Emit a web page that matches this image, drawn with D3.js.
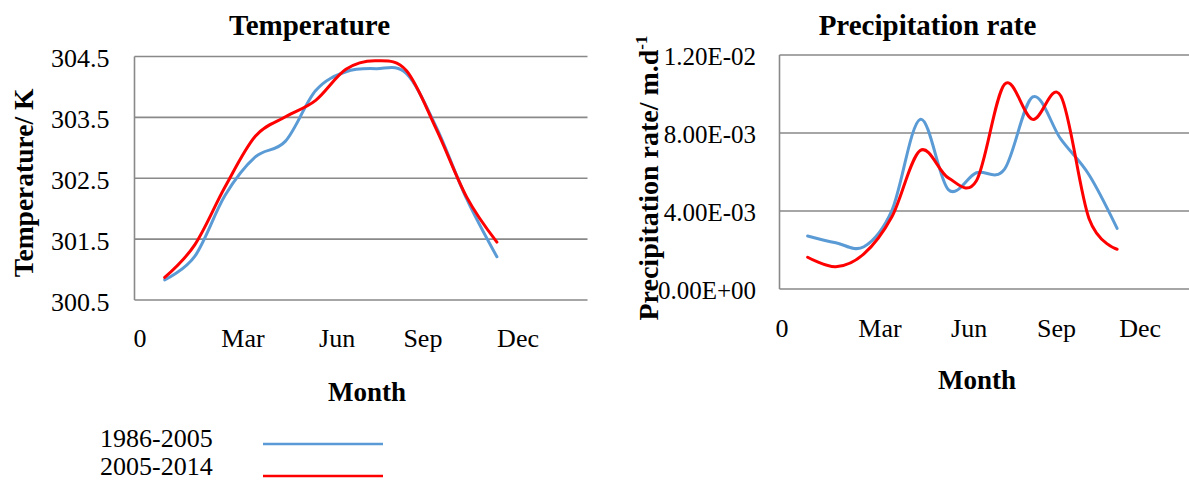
<!DOCTYPE html>
<html>
<head>
<meta charset="utf-8">
<script src="https://cdn.jsdelivr.net/npm/d3@7"></script>
<style>
  html, body { margin: 0; padding: 0; background: #ffffff; }
  svg { display: block; }
  text { font-family: "Liberation Serif", "Times New Roman", serif; fill: #000; }
</style>
</head>
<body>
<div id="chart"></div>
<script>
// ---------------- data ----------------
const months = [1, 2, 3, 4, 5, 6, 7, 8, 9, 10, 11, 12];
const seriesNames = ["1986-2005", "2005-2014"];
const seriesColors = ["#5B9BD5", "#FF0000"];

// Temperature (K)
const tempBase   = [300.83, 301.22, 302.22, 302.85, 303.11, 303.94, 304.25, 304.30, 304.22, 303.33, 302.16, 301.21];
const tempRecent = [300.87, 301.41, 302.36, 303.19, 303.51, 303.78, 304.29, 304.43, 304.27, 303.30, 302.19, 301.45];

// Precipitation rate (m/d)
const precBase   = [0.00272, 0.00237, 0.00217, 0.00405, 0.00870, 0.00510, 0.00596, 0.00615, 0.00985, 0.00768, 0.00586, 0.00311];
const precRecent = [0.00163, 0.00114, 0.00180, 0.00372, 0.00710, 0.00570, 0.00555, 0.01050, 0.00870, 0.00990, 0.00362, 0.00204];

// axes
const tempTicks = [300.5, 301.5, 302.5, 303.5, 304.5];
const precTicks = [0, 0.004, 0.008, 0.012];
const monthTickLabels = ["0", "Mar", "Jun", "Sep", "Dec"];
const tempMonthTickAt = [0.18, 3.59, 6.71, 9.55, 12.7];
const precMonthTickAt = [0.09, 3.57, 6.74, 9.85, 12.82];

// ---------------- drawing ----------------
const W = 1189, H = 480;
const svg = d3.select("#chart").append("svg")
  .attr("width", W).attr("height", H)
  .attr("viewBox", `0 0 ${W} ${H}`);
svg.append("rect").attr("width", W).attr("height", H).attr("fill", "#fff");

const gridColor = "#898989";

function txt(g, x, y, s, o = {}) {
  const size = o.size || 25;
  let tr = `translate(${x},${y})`;
  if (o.rotate) tr += ` rotate(${o.rotate})`;
  return g.append("text")
    .attr("transform", tr)
    .attr("text-anchor", o.anchor || "start")
    .attr("font-size", size)
    .attr("font-weight", o.bold ? "bold" : "normal")
    .text(s);
}

function fmtExp(v) {
  const s = v.toExponential(2).toUpperCase(); // e.g. 4.00E-3
  const m = s.match(/^(.*)E([+-])(\d+)$/);
  return m[1] + "E" + m[2] + m[3].padStart(2, "0");
}

function panel(cfg) {
  const g = svg.append("g");
  const x = cfg.x, y = cfg.y;
  const [x0, x1] = x.range();
  const [yb, yt] = y.range();

  // grid lines
  g.selectAll("line.grid").data(cfg.yTicks).join("line")
    .attr("x1", x0).attr("x2", x1)
    .attr("y1", d => y(d)).attr("y2", d => y(d))
    .attr("stroke", gridColor).attr("stroke-width", 1.6);
  // vertical axis line
  g.append("line").attr("x1", x0).attr("x2", x0).attr("y1", yt).attr("y2", yb)
    .attr("stroke", gridColor).attr("stroke-width", 1.6);

  // y tick labels
  cfg.yTicks.forEach(t => txt(g, cfg.yLabelX, y(t) + cfg.yLabelDy, cfg.yFmt(t), { anchor: "end", size: cfg.tickSize }));
  // x tick labels
  cfg.xTickAt.forEach((m, i) => txt(g, x(m), cfg.xLabelY, monthTickLabels[i], { anchor: "middle", size: 26 }));

  // series
  const line = d3.line().x((d, i) => x(months[i])).y(d => y(d)).curve(d3.curveCardinal.tension(0));
  cfg.series.forEach((s, i) => {
    g.append("path").datum(s).attr("d", line)
      .attr("fill", "none").attr("stroke", seriesColors[i])
      .attr("stroke-width", 3).attr("stroke-linecap", "round").attr("stroke-linejoin", "round");
  });

  // title
  txt(g, cfg.titleX, 35, cfg.title, { anchor: "middle", size: 29, bold: true });
  // x-axis title
  txt(g, cfg.monthX, cfg.monthY, "Month", { anchor: "middle", size: 27, bold: true });
  return g;
}

const xT = d3.scaleLinear([0, 15], [134.5, 587.5]);
const yT = d3.scaleLinear([300.5, 304.5], [300, 56.5]);
panel({
  x: xT, y: yT, yTicks: tempTicks, yFmt: d => d.toFixed(1), tickSize: 26,
  yLabelX: 109.5, yLabelDy: 10.8, xTickAt: tempMonthTickAt, xLabelY: 346.5,
  series: [tempBase, tempRecent], title: "Temperature", titleX: 309.5,
  monthX: 367, monthY: 401
});
// left y-axis title
txt(svg, 33, 183, "Temperature/ K", { anchor: "middle", size: 27.5, bold: true, rotate: -90 });

const xP = d3.scaleLinear([0, 15], [779.5, 1201.5]);
const yP = d3.scaleLinear([0, 0.012], [289, 55]);
panel({
  x: xP, y: yP, yTicks: precTicks, yFmt: fmtExp, tickSize: 25,
  yLabelX: 756, yLabelDy: 10.3, xTickAt: precMonthTickAt, xLabelY: 337,
  series: [precBase, precRecent], title: "Precipitation rate", titleX: 927.5,
  monthX: 977, monthY: 389
});
// right y-axis title with superscript
{
  const t = svg.append("text")
    .attr("transform", "translate(658,178) rotate(-90)")
    .attr("text-anchor", "middle")
    .attr("font-size", 28).attr("font-weight", "bold");
  t.append("tspan").text("Precipitation rate/ m.d");
  t.append("tspan").attr("font-size", 17).attr("dy", -11).text("-1");
}

// legend
const lg = svg.append("g");
seriesNames.forEach((n, i) => {
  txt(lg, 100, 447 + i * 27.5, n, { size: 26 });
  lg.append("line").attr("x1", 263).attr("x2", 383)
    .attr("y1", 444 + i * 32).attr("y2", 444 + i * 32)
    .attr("stroke", seriesColors[i]).attr("stroke-width", 2.6);
});
</script>
</body>
</html>
